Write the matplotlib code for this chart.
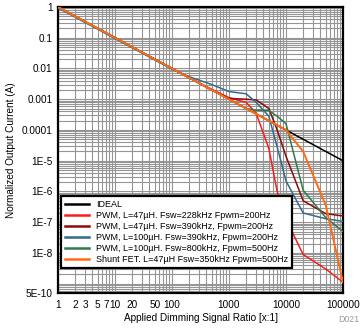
import numpy as np
import matplotlib
matplotlib.use("Agg")
import matplotlib.pyplot as plt
from matplotlib.ticker import LogLocator, FixedLocator, NullFormatter

plt.rcParams['font.family'] = ['Liberation Sans', 'DejaVu Sans']

x = [1, 2, 3, 5, 7, 10, 20, 50, 100, 200, 500, 1000, 2000, 3000, 5000, 7000,
     10000, 20000, 50000, 100000]

ideal = [1, 0.5, 0.333, 0.2, 0.143, 0.1, 0.05, 0.02, 0.01, 0.005, 0.002, 0.001,
         5e-4, 3.33e-4, 2e-4, 1.43e-4, 1e-4, 5e-5, 2e-5, 1e-5]
pwm_47_228 = [1, 0.5, 0.333, 0.2, 0.143, 0.1, 0.05, 0.02, 0.01, 0.005, 0.0021,
              1.12e-3, 7.9e-4, 3.5e-4, 2.5e-5, 1.0e-6, 1.26e-7, 8.9e-9, 3.0e-9, 1.12e-9]
pwm_47_390 = [1, 0.5, 0.333, 0.2, 0.143, 0.1, 0.05, 0.02, 0.01, 0.005, 0.002,
              1.07e-3, 1.0e-3, 9.5e-4, 5.0e-4, 1.0e-4, 1.4e-5, 5.0e-7, 1.9e-7, 1.6e-7]
pwm_100_390 = [0.93, 0.47, 0.31, 0.19, 0.134, 0.094, 0.047, 0.019, 0.0095, 0.0054, 0.003,
               1.78e-3, 1.5e-3, 7.9e-4, 2.8e-4, 2.8e-5, 2.2e-6, 2.0e-7, 1.3e-7, 1.07e-7]
pwm_100_800 = [1, 0.5, 0.333, 0.2, 0.143, 0.1, 0.05, 0.02, 0.01, 0.005, 0.002, 0.001,
               5e-4, 4.4e-4, 4.3e-4, 2.8e-4, 1.6e-4, 1.1e-6, 1.4e-7, 5.0e-8]
shunt_fet = [1, 0.5, 0.333, 0.2, 0.143, 0.1, 0.05, 0.02, 0.01, 0.005, 0.002, 0.001,
             5e-4, 3.33e-4, 2e-4, 1.43e-4, 1e-4, 2.0e-5, 3.5e-7, 1.12e-9]

labels = ["IDEAL",
          "PWM, L=47\u00b5H. Fsw=228kHz Fpwm=200Hz",
          "PWM, L=47\u00b5H. Fsw=390kHz, Fpwm=200Hz",
          "PWM, L=100\u00b5H. Fsw=390kHz, Fpwm=200Hz",
          "PWM, L=100\u00b5H. Fsw=800kHz, Fpwm=500Hz",
          "Shunt FET. L=47\u00b5H Fsw=350kHz Fpwm=500Hz"]
series = [ideal, pwm_47_228, pwm_47_390, pwm_100_390, pwm_100_800, shunt_fet]
colors = ["#000000", "#ff1a1a", "#8b0a0a", "#336b8c", "#2f7a48", "#ff6a14"]
widths = [1.1, 1.1, 1.1, 1.1, 1.1, 1.4]

xticks = [1, 2, 3, 5, 7, 10, 20, 50, 100, 1000, 10000, 100000]
xticklabels = ["1", "2", "3", "5", "7", "10", "20", "50", "100", "1000", "10000", "100000"]
yticks = [1, 0.1, 0.01, 0.001, 0.0001, 1e-5, 1e-6, 1e-7, 1e-8, 1e-9, 5e-10]
yticklabels = ["1", "0.1", "0.01", "0.001", "0.0001", "1E-5", "1E-6", "1E-7", "1E-8", "", "5E-10"]

fig = plt.figure(figsize=(3.63, 3.28), dpi=100)
ax = fig.add_axes([58/363, 35/328, 285/363, 286/328])
ax.set_xscale('log')
ax.set_yscale('log')
ax.set_xlim(1, 100000)
ax.set_ylim(5e-10, 1)

for s, lab, c, w in zip(series, labels, colors, widths):
    ax.plot(x, s, color=c, lw=w, label=lab, zorder=3)

ax.xaxis.set_major_locator(FixedLocator(xticks))
ax.set_xticklabels(xticklabels)
ax.xaxis.set_minor_locator(LogLocator(base=10, subs=np.arange(2, 10), numticks=100))
ax.xaxis.set_minor_formatter(NullFormatter())
ax.yaxis.set_major_locator(FixedLocator(yticks))
ax.set_yticklabels(yticklabels)
ax.yaxis.set_minor_locator(LogLocator(base=10, subs=np.arange(2, 10), numticks=100))
ax.yaxis.set_minor_formatter(NullFormatter())

ax.grid(True, which='both', color='#959595', lw=0.8, zorder=0)
ax.set_axisbelow(True)
ax.tick_params(which='both', length=0, labelsize=7.2)
ax.tick_params(axis='x', pad=5)
ax.tick_params(axis='y', pad=4)
for sp in ax.spines.values():
    sp.set_linewidth(1.6)
    sp.set_color('black')

ax.set_xlabel("Applied Dimming Signal Ratio [x:1]", fontsize=7.2, labelpad=2)
ax.set_ylabel("Normalized Output Current (A)", fontsize=7.2, labelpad=4)

leg = ax.legend(loc='lower left', bbox_to_anchor=(0.012, 0.087), fontsize=6.5,
                frameon=True, fancybox=False, framealpha=1, edgecolor='black',
                handlelength=2.6, handletextpad=0.8, labelspacing=0.22,
                borderpad=0.45, borderaxespad=0)
leg.get_frame().set_linewidth(1.6)
for line in leg.get_lines():
    line.set_linewidth(1.8)

fig.text(0.99, 0.012, "D021", color='#999999', fontsize=6.3, ha='right', va='bottom')

fig.savefig("out.png", dpi=100)
